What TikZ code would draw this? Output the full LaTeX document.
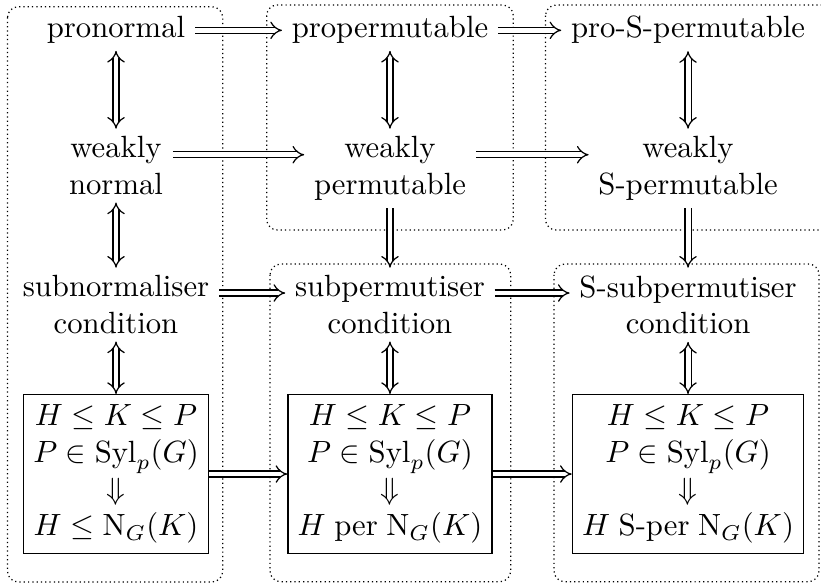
\documentclass[tikz,border=0pt]{standalone}
\usepackage{amsmath}
\usetikzlibrary{arrows.meta,cd}

\begin{document}
\begin{tikzpicture}[
  prop/.style={align=center, anchor=north, inner xsep=3pt, inner ysep=2.3pt},
  crit/.style={draw, align=center, inner sep=3.2pt},
  imp/.style={double, double distance=1.6pt, -{tikzcd implies}},
  iff/.style={double, double distance=1.6pt, {tikzcd implies}-{tikzcd implies}},
  grp/.style={densely dotted, rounded corners=3.5pt}
]
\useasboundingbox (0,0) rectangle (9.398,-6.685);
% groups
\draw[grp] (0.086,-0.077) rectangle (2.549,-6.662);
\draw[grp] (3.053,-0.057) rectangle (5.876,-2.633);
\draw[grp] (6.244,-0.057) rectangle (9.600,-2.633);
\draw[grp] (3.091,-3.022) rectangle (5.846,-6.659);
\draw[grp] (6.342,-3.022) rectangle (9.375,-6.659);

\node[prop] (pn) at (1.328,-0.094) {pronormal};
\node[prop] (pp) at (4.464,-0.094) {propermutable};
\node[prop] (ps) at (7.876,-0.094) {pro-S-permutable};
\node[prop] (wn) at (1.328,-1.473) {weakly\\normal};
\node[prop] (wp) at (4.464,-1.473) {weakly\\permutable};
\node[prop] (ws) at (7.876,-1.473) {weakly\\S-permutable};
\node[prop] (sn) at (1.328,-3.064) {subnormaliser\\condition};
\node[prop] (sp) at (4.464,-3.064) {subpermutiser\\condition};
\node[prop] (ss) at (7.876,-3.064) {S-subpermutiser\\condition};
\node[crit] (kn) at (1.328,-5.426)
  {$H \le K \le P$\\$P \in \mathrm{Syl}_p(G)$\\$\Downarrow$\\$H \le \mathrm{N}_G(K)$};
\node[crit] (kp) at (4.464,-5.426)
  {$H \le K \le P$\\$P \in \mathrm{Syl}_p(G)$\\$\Downarrow$\\$H \mathrel{\mathrm{per}} \mathrm{N}_G(K)$};
\node[crit] (ks) at (7.876,-5.426)
  {$H \le K \le P$\\$P \in \mathrm{Syl}_p(G)$\\$\Downarrow$\\$H \mathrel{\text{S-per}} \mathrm{N}_G(K)$};

% arrow heights of the text rows
\coordinate (r1) at (0,-0.347);
\coordinate (r2) at (0,-1.771);
\coordinate (r3) at (0,-3.354);

\draw[imp] (pn.east |- r1) -- (pp.west |- r1);
\draw[imp] (pp.east |- r1) -- (ps.west |- r1);
\draw[imp] (wn.east |- r2) -- (wp.west |- r2);
\draw[imp] (wp.east |- r2) -- (ws.west |- r2);
\draw[imp] (sn.east |- r3) -- (sp.west |- r3);
\draw[imp] (sp.east |- r3) -- (ss.west |- r3);
\draw[imp] (kn) -- (kp);
\draw[imp] (kp) -- (ks);

\draw[iff] (pn) -- (wn);
\draw[iff] (wn) -- (sn);
\draw[iff] (sn) -- (kn);
\draw[iff] (pp) -- (wp);
\draw[imp] (wp) -- (sp);
\draw[iff] (sp) -- (kp);
\draw[iff] (ps) -- (ws);
\draw[imp] (ws) -- (ss);
\draw[iff] (ss) -- (ks);
\end{tikzpicture}
\end{document}
